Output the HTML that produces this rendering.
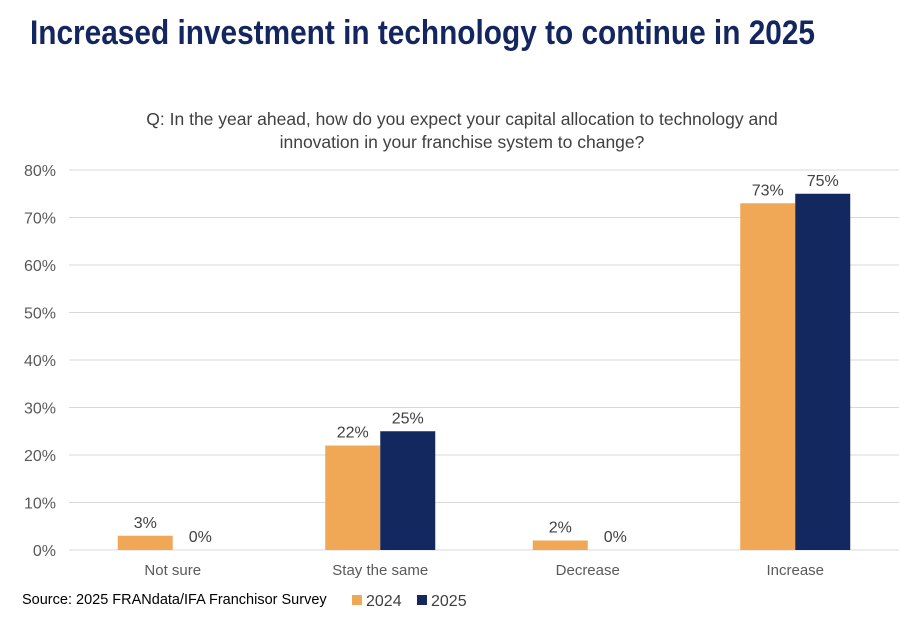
<!DOCTYPE html>
<html><head><meta charset="utf-8"><style>
body{margin:0;background:#fff;width:900px;height:635px;overflow:hidden;font-family:"Liberation Sans",sans-serif}
</style></head><body>
<svg width="900" height="635">
<text x="30" y="44" textLength="785" lengthAdjust="spacingAndGlyphs" font-family="Liberation Sans Narrow, Liberation Sans, sans-serif" font-weight="bold" font-size="34" fill="#14265f">Increased investment in technology to continue in 2025</text>
<text x="462" y="125" text-anchor="middle" font-size="17.5" fill="#404040">Q: In the year ahead, how do you expect your capital allocation to technology and</text>
<text x="462" y="148" text-anchor="middle" font-size="17.5" fill="#404040">innovation in your franchise system to change?</text>
<g id="grid"></g><g id="bars"></g>
<text x="22" y="604" font-size="14.5" fill="#000">Source: 2025 FRANdata/IFA Franchisor Survey</text>
<rect x="352" y="595" width="10" height="10" fill="#f0a857"/>
<text x="366" y="606" font-size="16" fill="#404040">2024</text>
<rect x="417" y="595" width="10" height="10" fill="#12285e"/>
<text x="431" y="606" font-size="16" fill="#404040">2025</text>
</svg>
<script>
const categories=["Not sure","Stay the same","Decrease","Increase"];
const values2024=[3,22,2,73];
const values2025=[0,25,0,75];
const yTicks=[0,10,20,30,40,50,60,70,80];
const x0=69,x1=899,y0=550,y1=170,yMax=80;
const y=v=>y0-(y0-y1)*v/yMax;
const band=(x1-x0)/categories.length;
const cx=i=>x0+band*(i+0.5);
const NS="http://www.w3.org/2000/svg";
const g=document.getElementById('grid'),b=document.getElementById('bars');
function mk(tag,attrs,parent,txt){const e=document.createElementNS(NS,tag);for(const k in attrs)e.setAttribute(k,attrs[k]);if(txt!==undefined)e.textContent=txt;parent.appendChild(e);return e;}
yTicks.forEach(t=>{
 const l=mk('line',{x1:x0,x2:x1,y1:y(t),y2:y(t),stroke:'#d9d9d9','stroke-width':1},g);
 
 
 const tx=mk('text',{x:56,y:y(t)+6,'text-anchor':'end','font-size':16,fill:'#595959'},g,t+'%');
 
 
});
const bw=55;
categories.forEach((c,i)=>{
 [[values2024,'#f0a857',-1],[values2025,'#12285e',0]].forEach(([arr,col,off],s)=>{
  const v=arr[i],bx=cx(i)+off*bw;
  const r=mk('rect',{x:bx,y:y(v),width:bw,height:y0-y(v),fill:col},b);
  
  
  const t=mk('text',{x:bx+bw/2,y:y(v)-8,'text-anchor':'middle','font-size':16,fill:'#404040'},b,v+'%');
  
  
 });
 const xl=mk('text',{x:cx(i),y:575,'text-anchor':'middle','font-size':15,fill:'#595959'},b,c);
 
 
});
</script>
</body></html>
